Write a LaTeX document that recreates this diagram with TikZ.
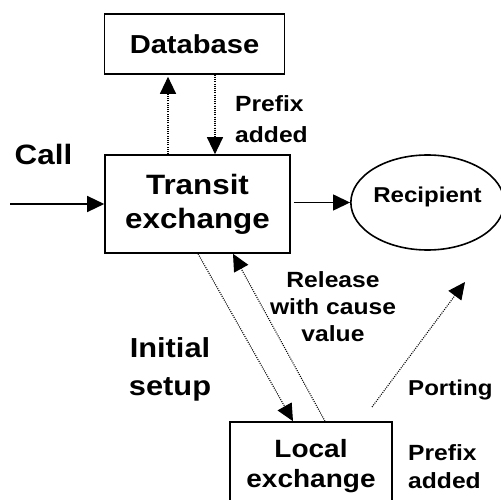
\documentclass[tikz,border=0pt]{standalone}
\usepackage{fontspec}
\setmainfont{Liberation Sans}[FakeStretch=1.12]
\usetikzlibrary{arrows.meta,shapes.geometric}
\newcommand{\fs}[2]{\fontsize{#1}{#2}\selectfont\bfseries}
\tikzset{
  box/.style={draw, line width=1.6pt, inner sep=0pt, align=center},
  lbl/.style={inner sep=0pt, align=center},
  arr/.style={line width=1.4pt, -{Triangle[length=17pt,width=16pt]}},
  dotarr/.style={line width=1.1pt, dash pattern=on 1pt off 1.2pt, -{Triangle[length=17pt,width=16pt]}},
}
\begin{document}
\begin{tikzpicture}[x=1pt,y=-1pt]
\clip (0,0) rectangle (501,500);
\node[box, minimum width=180pt, minimum height=60pt, font=\fs{26}{31}] (db) at (194.5,44) {Database};
\node[box, minimum width=185pt, minimum height=98pt, font=\fs{28}{34}] (tr) at (197.5,204) {Transit\\exchange};
\node[draw, ellipse, line width=1.6pt, minimum width=145pt, minimum height=95pt, inner sep=0pt, text height=8pt, text depth=7pt, font=\fs{21.5}{26}] (rec) at (427.5,202.5) {Recipient};
\node[box, minimum width=162pt, minimum height=88pt, font=\fs{25}{30}] (loc) at (311,466) {Local\\exchange};

\coordinate (callin) at (10,204);
\draw[arr] (callin) -- (tr.west);
\coordinate (trout) at ([xshift=3pt]tr.east);
\draw[arr] (trout |- rec.west) -- (rec.west);

\draw[dotarr, shorten >=2pt] ([xshift=-29.5pt]tr.north) -- ([xshift=-26.5pt]db.south);
\draw[dotarr] ([xshift=20.5pt]db.south) -- ([xshift=17.5pt]tr.north);
\draw[dotarr] ([xshift=0.5pt]tr.south) -- ([xshift=-18pt]loc.north);
\draw[dotarr] ([xshift=14pt]loc.north) -- ([xshift=35.5pt]tr.south);
\coordinate (p1) at (372,407);
\coordinate (p2) at (465,282);
\draw[dotarr] (p1) -- (p2);

\node[lbl, anchor=base, font=\fs{28}{34}] (call) at (43.5,165) {Call};
\node[lbl, anchor=north west, align=left, font=\fs{22}{31}] (pfx1) at (235,95) {Prefix\\added};
\node[lbl, anchor=north, font=\fs{22}{27}] (rel) at (333,271) {Release\\with cause\\value};
\node[lbl, anchor=north, font=\fs{27.5}{38}] (init) at (170,337) {Initial\\setup};
\node[lbl, anchor=base west, font=\fs{21.5}{26}] (port) at (408,395) {Porting};
\node[lbl, anchor=north west, align=left, font=\fs{22}{28}] (pfx2) at (408,444) {Prefix\\added};
\end{tikzpicture}
\end{document}
